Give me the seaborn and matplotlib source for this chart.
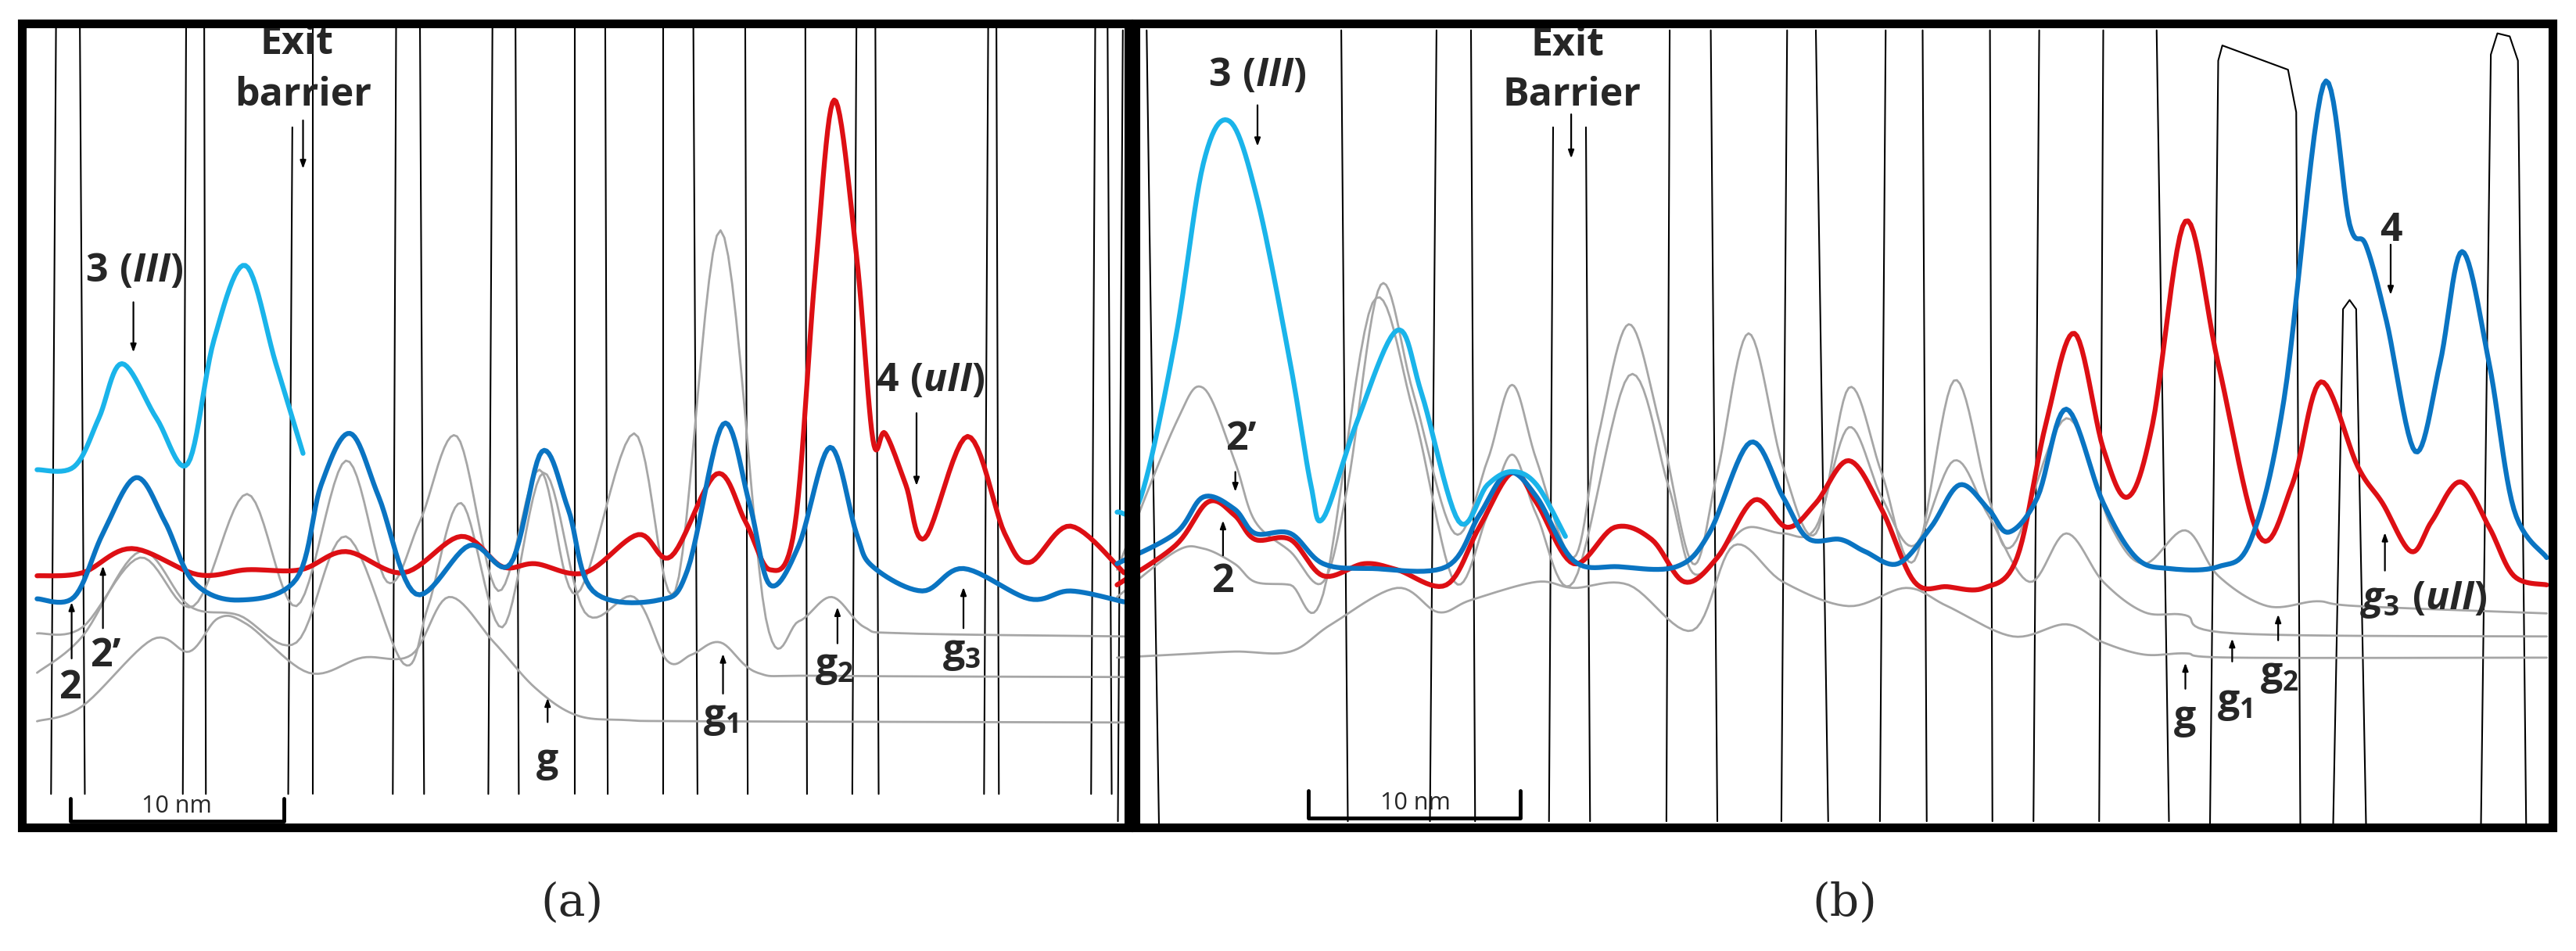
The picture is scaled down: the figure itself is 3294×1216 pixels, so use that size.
import numpy as np
import pandas as pd
import matplotlib
matplotlib.use("Agg")
import matplotlib.pyplot as plt
import seaborn as sns

sns.set_theme(style="white")
plt.rcParams['font.family'] = ['Open Sans', 'DejaVu Sans']
plt.rcParams['mathtext.fontset'] = 'custom'
plt.rcParams['mathtext.rm'] = 'Open Sans:bold'
plt.rcParams['mathtext.bf'] = 'Open Sans:bold'
plt.rcParams['mathtext.it'] = 'Open Sans:bold:italic'

# values in two "read frames" (a: left half, b: right half)
SXA, OXA, SY = 1.053, 0.0, 0.775
SXB, OXB = 1.05, 1650.0

# ---------- panel (a) ----------
a_cyan_x = [45, 90, 120, 148, 190, 228, 260, 298, 335, 368]
a_cyan_y = [775, 770, 690, 600, 690, 765, 560, 438, 600, 748]
a_blue_x = [45, 90, 125, 165, 200, 235, 290, 360, 390, 425, 460, 505, 570, 620, 658, 690, 720, 800, 835, 878, 910, 935, 970, 1008, 1040, 1060, 1120, 1170, 1250, 1300, 1365]
a_blue_y = [988, 985, 880, 788, 860, 960, 990, 955, 800, 715, 820, 980, 900, 930, 745, 840, 975, 990, 940, 700, 830, 965, 900, 738, 880, 935, 975, 938, 988, 975, 993]
a_red_x = [45, 100, 160, 240, 300, 365, 420, 490, 560, 610, 650, 710, 775, 815, 870, 905, 935, 965, 990, 1013, 1040, 1060, 1075, 1100, 1123, 1175, 1220, 1250, 1300, 1365]
a_red_y = [950, 945, 905, 948, 940, 940, 910, 945, 885, 935, 930, 945, 882, 918, 782, 860, 940, 870, 450, 165, 420, 725, 715, 800, 888, 720, 880, 928, 868, 945]
a_g_x = [45, 100, 185, 230, 265, 300, 375, 440, 500, 545, 600, 650, 700, 760, 850, 1365]
a_g_y = [1190, 1165, 1055, 1075, 1020, 1030, 1110, 1085, 1080, 985, 1060, 1135, 1180, 1188, 1190, 1192]
a_g1_x = [45, 100, 170, 230, 290, 360, 420, 490, 520, 560, 610, 660, 710, 770, 810, 840, 875, 920, 1000, 1365]
a_g1_y = [1110, 1050, 910, 1000, 1015, 1060, 885, 1095, 1000, 830, 1035, 780, 1010, 985, 1090, 1080, 1060, 1110, 1115, 1117]
a_g2_x = [45, 100, 170, 235, 300, 360, 420, 470, 510, 555, 605, 655, 700, 770, 820, 875, 930, 970, 1010, 1050, 1100, 1365]
a_g2_y = [1045, 1035, 920, 1000, 815, 1000, 760, 960, 860, 720, 975, 775, 980, 715, 975, 380, 1020, 1025, 985, 1035, 1045, 1050]
a_wall_top = [68, 97, 226, 248, 355, 380, 481, 510, 598, 626, 698, 735, 805, 842, 905, 978, 1040, 1063, 1200, 1210, 1330, 1345]
a_wall_bot = [62, 103, 222, 250, 350, 380, 477, 515, 593, 630, 698, 738, 805, 847, 908, 980, 1035, 1067, 1195, 1213, 1325, 1350]
a_wall_ytop = [45, 45, 45, 45, 210, 45, 45, 45, 45, 45, 45, 45, 45, 45, 45, 45, 45, 45, 45, 45, 45, 45]

# ---------- panel (b) ----------
b_cyan_x = [-211, -182, -140, -106, -74, -40, 0, 25, 40, 80, 130, 160, 205, 240, 270, 300, 335]
b_cyan_y = [845, 820, 560, 270, 200, 330, 600, 800, 855, 700, 545, 650, 860, 800, 778, 800, 885]
b_blue_x = [-211, -140, -106, -68, -43, 0, 40, 100, 190, 230, 265, 300, 345, 400, 470, 510, 560, 600, 630, 670, 700, 740, 780, 815, 850, 875, 910, 945, 990, 1030, 1070, 1130, 1170, 1210, 1258, 1290, 1310, 1335, 1370, 1400, 1427, 1460, 1490, 1530]
b_blue_y = [930, 880, 820, 840, 880, 880, 930, 938, 935, 850, 780, 820, 925, 935, 935, 880, 730, 820, 888, 890, 910, 930, 870, 800, 840, 878, 820, 675, 830, 920, 938, 935, 890, 660, 140, 370, 405, 530, 745, 600, 415, 600, 840, 920]
b_red_x = [-211, -140, -100, -68, -43, 0, 40, 90, 130, 190, 230, 270, 300, 345, 395, 440, 480, 520, 565, 605, 640, 680, 720, 760, 800, 845, 885, 920, 955, 990, 1020, 1050, 1090, 1130, 1180, 1220, 1255, 1300, 1330, 1365, 1390, 1425, 1460, 1490, 1530]
b_red_y = [965, 900, 828, 850, 890, 890, 950, 930, 940, 965, 870, 780, 830, 930, 870, 890, 960, 920, 825, 870, 830, 760, 840, 960, 968, 970, 920, 700, 550, 740, 820, 700, 365, 600, 885, 800, 630, 770, 830, 910, 860, 795, 870, 950, 965]
b_g2_x = [-211, -140, -106, -68, -43, 0, 40, 70, 110, 150, 200, 240, 270, 300, 345, 375, 412, 450, 490, 520, 558, 600, 640, 680, 720, 760, 808, 850, 880, 945, 1000, 1040, 1090, 1130, 1190, 1250, 1300, 1530]
b_g2_y = [940, 700, 640, 760, 860, 910, 960, 800, 470, 650, 880, 760, 635, 760, 920, 720, 535, 700, 930, 780, 550, 770, 880, 640, 780, 925, 628, 820, 900, 690, 870, 930, 875, 950, 1000, 992, 1000, 1012]
b_g1_x = [-211, -140, -106, -68, -43, 0, 40, 100, 150, 200, 240, 270, 300, 345, 412, 460, 490, 530, 558, 600, 640, 680, 720, 760, 808, 850, 900, 945, 990, 1040, 1090, 1150, 1530]
b_g1_y = [985, 910, 905, 930, 960, 965, 980, 500, 680, 960, 850, 750, 850, 960, 620, 800, 945, 900, 870, 880, 870, 705, 820, 900, 760, 850, 960, 880, 960, 1010, 1015, 1045, 1050]
b_g_x = [-211, -140, -68, 0, 50, 130, 180, 220, 300, 345, 412, 490, 540, 600, 680, 750, 800, 880, 945, 990, 1040, 1090, 1150, 1530]
b_g_y = [1085, 1080, 1075, 1075, 1030, 970, 1010, 990, 960, 970, 965, 1040, 900, 960, 1000, 970, 1000, 1050, 1030, 1060, 1080, 1078, 1085, 1085]
b_wall_top = [-204, 62, 178, 220, 320, 360, 462, 512, 605, 640, 725, 770, 852, 912, 990, 1055]
b_wall_bot = [-210, 70, 170, 225, 315, 365, 458, 520, 598, 655, 718, 775, 855, 905, 985, 1070]
b_wall_ytop = [50, 50, 50, 50, 210, 210, 50, 50, 50, 50, 50, 50, 50, 50, 50, 50]
b_hump1_x = [1120, 1130, 1135, 1215, 1225, 1230]
b_hump1_y = [1360, 100, 75, 115, 185, 1360]
b_hump2_x = [1270, 1282, 1290, 1298, 1310]
b_hump2_y = [1360, 510, 495, 510, 1360]
b_hump3_x = [1450, 1462, 1470, 1485, 1495, 1505]
b_hump3_y = [1360, 90, 55, 60, 100, 1360]
b_edge_x = [-175, -168, -160]
b_edge_y = [50, 700, 1360]

CYAN, BLUE, RED, GRAY = "#1ab4ea", "#0a74c2", "#dd0f14", "#a6a6a6"


def smooth(x, y, n=12):
    x = np.asarray(x, float); y = np.asarray(y, float)
    P = np.column_stack([x, y])
    P = np.vstack([P[0], P, P[-1]])
    out = []
    for i in range(1, len(P) - 2):
        p0, p1, p2, p3 = P[i - 1], P[i], P[i + 1], P[i + 2]
        t = np.linspace(0, 1, n, endpoint=False)[:, None]
        seg = 0.5 * ((2 * p1) + (-p0 + p2) * t + (2 * p0 - 5 * p1 + 4 * p2 - p3) * t ** 2
                     + (-p0 + 3 * p1 - 3 * p2 + p3) * t ** 3)
        out.append(seg)
    out.append(P[-2][None, :])
    return np.vstack(out)


fig = plt.figure(figsize=(32.94, 12.16), dpi=100)
ax = fig.add_axes([0, 0, 1, 1])
ax.set_xlim(0, 3294)
ax.set_ylim(1216, 0)
ax.axis("off")


def curve(x, y, sx, ox, color, lw, sm=True, z=2):
    pts = smooth(x, y) if sm else np.column_stack([x, y]).astype(float)
    df = pd.DataFrame({"x": pts[:, 0] * sx + ox, "y": pts[:, 1] * SY})
    sns.lineplot(data=df, x="x", y="y", sort=False, estimator=None, color=color,
                 lw=lw, ax=ax, zorder=z)


def txt(x, y, s, sx, ox, size=36, **kw):
    ax.text(x * sx + ox, y * SY, s, fontsize=size, fontweight="bold", ha="center",
            va="center", **kw)


def arrow(x, y0, y1, sx, ox):
    ax.annotate("", xy=(x * sx + ox, y1 * SY), xytext=(x * sx + ox, y0 * SY),
                arrowprops=dict(arrowstyle="-|>,head_length=0.5,head_width=0.18",
                                color="black", lw=1.6))

# walls
for xt, xb, yt in zip(a_wall_top, a_wall_bot, a_wall_ytop):
    curve([xt, xb], [yt, 1310], SXA, OXA, "black", 1.5, sm=False, z=1)
for xt, xb, yt in zip(b_wall_top, b_wall_bot, b_wall_ytop):
    curve([xt, xb], [yt, 1355], SXB, OXB, "black", 1.5, sm=False, z=1)
for hx, hy in [(b_hump1_x, b_hump1_y), (b_hump2_x, b_hump2_y), (b_hump3_x, b_hump3_y), (b_edge_x, b_edge_y)]:
    curve(hx, hy, SXB, OXB, "black", 1.5, sm=False, z=1)

# gray curves
for gx, gy in [(a_g_x, a_g_y), (a_g1_x, a_g1_y), (a_g2_x, a_g2_y)]:
    curve(gx, gy, SXA, OXA, GRAY, 2.0)
for gx, gy in [(b_g_x, b_g_y), (b_g1_x, b_g1_y), (b_g2_x, b_g2_y)]:
    curve(gx, gy, SXB, OXB, GRAY, 2.0)

# colored curves
curve(a_red_x, a_red_y, SXA, OXA, RED, 4.5, z=3)
curve(a_blue_x, a_blue_y, SXA, OXA, BLUE, 4.5, z=4)
curve(a_cyan_x, a_cyan_y, SXA, OXA, CYAN, 4.5, z=5)
curve(b_red_x, b_red_y, SXB, OXB, RED, 4.5, z=3)
curve(b_blue_x, b_blue_y, SXB, OXB, BLUE, 4.5, z=4)
curve(b_cyan_x, b_cyan_y, SXB, OXB, CYAN, 4.5, z=5)

# panel frames
for x0, x1 in [(28, 1443), (1452, 3264)]:
    ax.add_patch(plt.Rectangle((x0, 30), x1 - x0, 1028, fill=False, lw=8, ec="black", zorder=10))

# labels panel a
txt(360, 72, "Exit", SXA, OXA)
txt(368, 158, "barrier", SXA, OXA)
arrow(368, 195, 282, SXA, OXA)
txt(163, 448, r"$3\ (\mathit{III})$", SXA, OXA)
arrow(162, 495, 585, SXA, OXA)
txt(1130, 628, r"$4\ (\mathit{uII})$", SXA, OXA)
arrow(1113, 678, 805, SXA, OXA)
txt(85, 1135, "2", SXA, OXA)
arrow(87, 1090, 990, SXA, OXA)
txt(128, 1082, "2\u2019", SXA, OXA)
arrow(125, 1040, 930, SXA, OXA)
txt(665, 1255, "g", SXA, OXA)
arrow(665, 1195, 1148, SXA, OXA)
txt(875, 1185, r"$\mathbf{g_1}$", SXA, OXA)
arrow(878, 1148, 1075, SXA, OXA)
txt(1013, 1100, r"$\mathbf{g_2}$", SXA, OXA)
arrow(1017, 1065, 998, SXA, OXA)
txt(1168, 1078, r"$\mathbf{g_3}$", SXA, OXA)
arrow(1170, 1040, 965, SXA, OXA)
curve([85, 85, 345, 345], [1318, 1355, 1355, 1318], SXA, OXA, "black", 3.5, sm=False, z=6)
ax.text(215 * SXA, 1330 * SY, "10 nm", fontsize=22, ha="center", va="center")
ax.text(695 * SXA, 1490 * SY, "(a)", fontsize=42, ha="center", va="center", family="DejaVu Serif")

# labels panel b
txt(338, 75, "Exit", SXB, OXB)
txt(343, 158, "Barrier", SXB, OXB)
arrow(342, 185, 265, SXB, OXB)
txt(-40, 125, r"$3\ (\mathit{III})$", SXB, OXB)
arrow(-40, 170, 245, SXB, OXB)
txt(-60, 725, "2\u2019", SXB, OXB)
arrow(-67, 775, 815, SXB, OXB)
txt(-82, 960, "2", SXB, OXB)
arrow(-82, 920, 855, SXB, OXB)
txt(1340, 380, "4", SXB, OXB)
arrow(1340, 400, 490, SXB, OXB)
txt(1380, 990, r"$g_3\ (\mathit{uII})$", SXB, OXB)
arrow(1333, 945, 875, SXB, OXB)
txt(1090, 1185, "g", SXB, OXB)
arrow(1090, 1140, 1090, SXB, OXB)
txt(1150, 1160, r"$\mathbf{g_1}$", SXB, OXB)
arrow(1147, 1095, 1050, SXB, OXB)
txt(1205, 1115, r"$\mathbf{g_2}$", SXB, OXB)
arrow(1203, 1060, 1010, SXB, OXB)
curve([22, 22, 280, 280], [1305, 1350, 1350, 1305], SXB, OXB, "black", 3.5, sm=False, z=6)
ax.text(152 * SXB + OXB, 1325 * SY, "10 nm", fontsize=22, ha="center", va="center")
ax.text(675 * SXB + OXB, 1490 * SY, "(b)", fontsize=42, ha="center", va="center", family="DejaVu Serif")

fig.savefig("out.png", dpi=100, facecolor="white")
